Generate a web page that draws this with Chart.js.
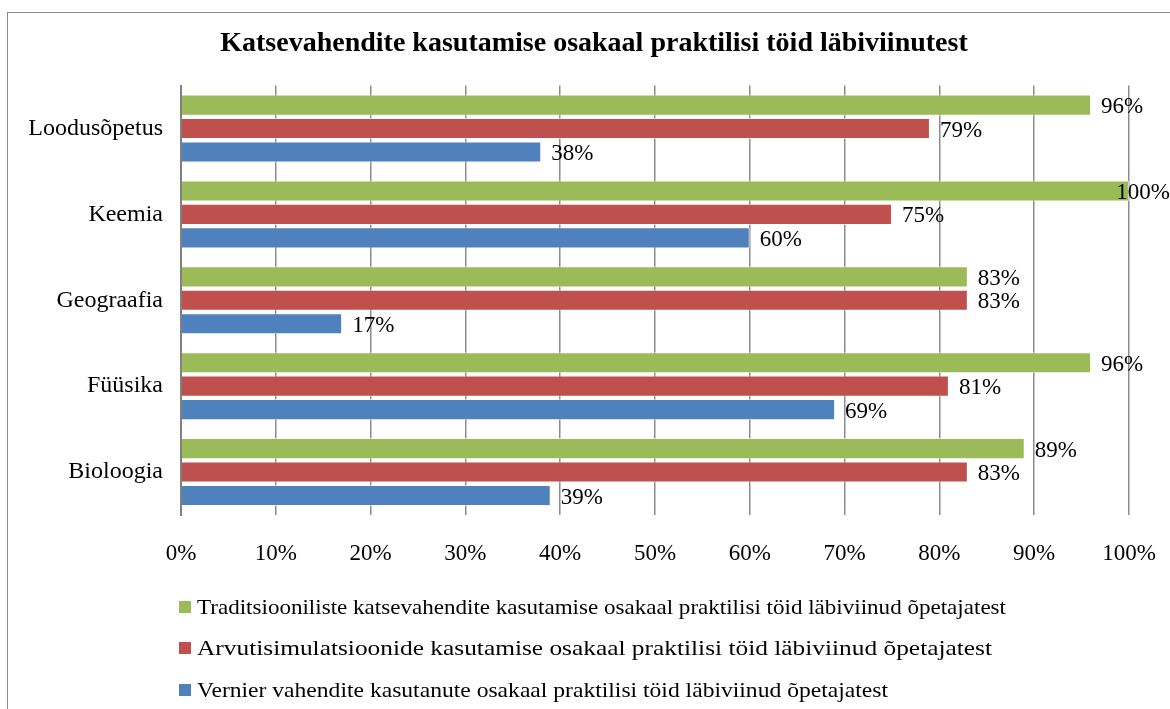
<!DOCTYPE html>
<html>
<head>
<meta charset="utf-8">
<script src="https://cdn.jsdelivr.net/npm/chart.js@4"></script>
<style>
    html, body { margin: 0; padding: 0; background: #ffffff; }
    #wrap { width: 1170px; height: 709px; position: relative; }
</style>
</head>
<body>
<div id="wrap"><canvas id="chart" width="1170" height="709"></canvas></div>
<script>
// ===============================
// Data
// ===============================
const categories = ["Loodusõpetus", "Keemia", "Geograafia", "Füüsika", "Bioloogia"];
const traditsioonilised = [96, 100, 83, 96, 89];
const simulatsioonid = [79, 75, 83, 81, 83];
const vernier = [38, 60, 17, 69, 39];
const seriesNames = [
    "Traditsiooniliste katsevahendite kasutamise osakaal praktilisi töid läbiviinud õpetajatest",
    "Arvutisimulatsioonide kasutamise osakaal praktilisi töid läbiviinud õpetajatest",
    "Vernier vahendite kasutanute osakaal praktilisi töid läbiviinud õpetajatest",
];
const xTicks = [0, 10, 20, 30, 40, 50, 60, 70, 80, 90, 100];
const chartTitle = "Katsevahendite kasutamise osakaal praktilisi töid läbiviinutest";

const COLORS = ["#9BBB59", "#C0504D", "#4F81BD"];
const FONT = "'Liberation Serif', 'Times New Roman', serif";

// Outer frame like the Excel chart border
const framePlugin = {
    id: "frame",
    beforeDraw(chart) {
        const ctx = chart.ctx;
        ctx.save();
        ctx.strokeStyle = "#8c8c8c";
        ctx.lineWidth = 1;
        ctx.strokeRect(7.5, 12.5, 1400, 900);
        ctx.restore();
    },
};

// Value labels right of each bar
const valueLabels = {
    id: "valueLabels",
    afterDatasetsDraw(chart) {
        const ctx = chart.ctx;
        ctx.save();
        ctx.font = "23px " + FONT;
        ctx.fillStyle = "#000";
        ctx.textBaseline = "middle";
        chart.data.datasets.forEach((ds, i) => {
            chart.getDatasetMeta(i).data.forEach((bar, j) => {
                const txt = ds.data[j] + "%";
                const w = ctx.measureText(txt).width;
                let x = bar.x + 10;
                if (x + w > chart.width) x = chart.width - w;
                ctx.fillText(txt, x, bar.y + 2);
            });
        });
        ctx.restore();
    },
};

// Legend stacked under the axis, like in the original
const legendRows = {
    id: "legendRows",
    afterDraw(chart) {
        const ctx = chart.ctx;
        const rowsY = [607, 648, 690];
        const widths = [809, 795, 691];
        ctx.save();
        ctx.font = "22px " + FONT;
        ctx.textBaseline = "middle";
        seriesNames.forEach((name, i) => {
            ctx.fillStyle = COLORS[i];
            ctx.fillRect(179, rowsY[i] - 6, 12, 12);
            ctx.fillStyle = "#000";
            const m = ctx.measureText(name).width;
            ctx.save();
            ctx.translate(197, rowsY[i] + 1);
            ctx.scale(widths[i] / m, 1);
            ctx.fillText(name, 0, 0);
            ctx.restore();
        });
        ctx.restore();
    },
};

const datasets = [traditsioonilised, simulatsioonid, vernier].map((vals, i) => ({
    label: seriesNames[i],
    data: vals,
    backgroundColor: COLORS[i],
    borderColor: "rgba(255,255,255,0.6)",
    borderWidth: 1,
    categoryPercentage: 0.82,
    barPercentage: 0.9,
}));

new Chart(document.getElementById("chart"), {
    type: "bar",
    data: { labels: categories, datasets: datasets },
    plugins: [framePlugin, valueLabels, legendRows],
    options: {
        indexAxis: "y",
        responsive: false,
        animation: false,
        layout: { padding: { left: 20, right: 2, top: 0, bottom: 144 } },
        plugins: {
            legend: { display: false },
            tooltip: { enabled: false },
            title: {
                display: true,
                text: chartTitle,
                color: "#000",
                font: { family: FONT, size: 28, weight: "bold" },
                padding: { top: 27, bottom: 25 },
            },
        },
        scales: {
            x: {
                min: 0,
                max: 100,
                afterBuildTicks(scale) {
                    scale.ticks = xTicks.map((v) => ({ value: v }));
                },
                afterFit(scale) {
                    scale.height = 50;
                    scale.paddingLeft = 0;
                    scale.paddingRight = 41;
                },
                ticks: {
                    color: "#000",
                    font: { family: FONT, size: 23 },
                    padding: 25,
                    maxRotation: 0,
                    callback: (v) => v + "%",
                },
                grid: { color: "#8c8c8c", lineWidth: 1.5, drawTicks: false },
                border: { display: false },
            },
            y: {
                afterFit(scale) {
                    scale.width = 161;
                    scale.paddingTop = 0;
                    scale.paddingBottom = 0;
                },
                ticks: {
                    color: "#000",
                    font: { family: FONT, size: 24 },
                    padding: 18,
                },
                grid: { display: false, drawTicks: false },
                border: { display: true, color: "#808080", width: 2 },
            },
        },
    },
});
</script>
</body>
</html>
